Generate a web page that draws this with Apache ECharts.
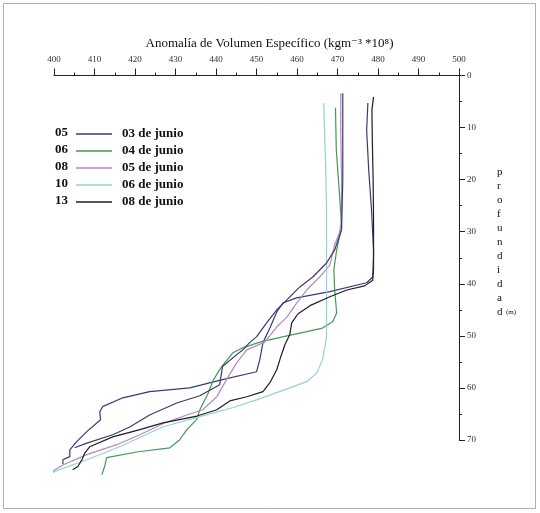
<!DOCTYPE html>
<html><head><meta charset="utf-8">
<script src="https://cdn.jsdelivr.net/npm/echarts@6/dist/echarts.min.js"></script>
<style>html,body{margin:0;padding:0;background:#fff}#c{width:540px;height:513px}</style>
</head><body><div id="c"></div>
<script>
// Tick values
const xTickLabels = [400,410,420,430,440,450,460,470,480,490,500];
const yTickLabels = [0,10,20,30,40,50,60,70];

// Legend info
const codes = ['05','06','08','10','13'];
const dates = ['03 de junio','04 de junio','05 de junio','06 de junio','08 de junio'];

// Series: anomaly values (x) and depth (m, y)
const val05 = [477.5,477.2,477.7,478.4,478.9,478.9,478.7,477.2,468.1,459.9,456.5,455.0,453.3,451.6,450.8,450.0,441.6,433.5,423.6,417.0,412.0,411.3,411.5,408.1,405.6,403.9,403.9,402.2,402.2];
const dep05 = [5.3,10.5,18.1,25.8,33.5,37.3,38.7,39.8,41.5,42.7,43.7,45.4,48.5,51.3,54.6,56.9,58.4,60.0,60.7,61.9,63.6,64.6,66.1,68.4,70.3,71.9,73.2,73.8,74.6];

const val05b = [471.3,471.3,471.3,471.0,469.3,467.3,463.9,460.7,457.5,455.0,452.5,450.0,448.3,446.6,445.1,441.6,440.9,436.0,430.3,423.6,418.7,414.5,408.1,405.1];
const dep05b = [3.4,10.5,20.1,29.7,33.5,36.0,38.7,40.6,43.1,45.0,47.5,50.2,51.3,52.7,53.6,55.9,59.4,61.5,62.9,65.2,67.5,69.0,70.6,71.5];

const val06 = [469.5,469.7,470.6,471.0,469.8,469.1,469.3,469.8,468.8,466.3,462.4,456.4,450.8,446.6,444.1,441.4,439.4,437.9,436.0,435.2,432.8,431.0,428.6,420.4,413.0,412.5,411.8];
const dep06 = [6.2,14.3,23.9,29.1,33.5,37.3,41.2,45.6,47.3,48.5,49.2,50.2,51.2,52.3,53.3,55.9,58.4,61.3,64.2,66.1,68.0,70.0,71.5,72.3,73.4,75.1,76.7];

const val08 = [470.8,470.8,471.0,471.0,470.5,469.3,468.1,465.6,462.4,459.9,457.5,455.0,452.0,447.6,445.1,442.6,440.2,436.7,432.8,427.4,421.2,415.5,408.1,402.2,398.2,394.0];
const dep08 = [3.4,10.5,20.1,27.7,30.2,32.5,36.4,38.7,41.2,43.7,46.4,48.3,51.2,52.7,55.2,58.4,61.7,64.2,65.2,66.7,69.0,70.9,72.8,74.8,76.7,78.0];

const val10 = [466.6,466.8,467.1,467.3,467.3,467.3,467.3,466.3,464.9,462.4,458.2,450.0,444.1,436.0,426.8,416.2,408.1,401.4,394.0];
const dep10 = [5.3,10.5,18.1,25.8,33.5,43.1,50.2,54.6,57.1,58.8,60.0,62.3,63.8,65.5,67.5,71.3,73.8,75.7,78.0];

const val13 = [478.9,478.5,478.6,478.8,478.9,478.9,478.7,476.7,472.3,468.1,463.2,460.2,458.7,458.2,457.0,456.0,455.0,453.3,451.6,447.6,443.4,440.2,435.3,426.9,421.2,414.5,408.8,407.6,406.9,405.9,404.6];
const dep13 = [4.1,6.6,12.4,20.1,27.7,34.5,39.3,40.4,41.2,42.5,44.2,45.8,47.5,49.8,51.7,54.0,56.5,59.0,60.7,61.7,62.5,64.2,65.4,66.7,68.0,69.4,71.3,72.5,73.8,75.1,75.7];

const colors = ['#3d3778','#3f9b55','#b488c2','#92d3d3','#1e1e24'];

const pair = (xs, ys) => xs.map((v, i) => [v, ys[i]]);
const seriesDefs = [
  {name: dates[0], data: pair(val05, dep05), color: colors[0]},
  {name: dates[1], data: pair(val06, dep06), color: colors[1]},
  {name: dates[2], data: pair(val08, dep08), color: colors[2]},
  {name: dates[3], data: pair(val10, dep10), color: colors[3]},
  {name: dates[4], data: pair(val13, dep13), color: colors[4]},
  {name: '05 (b)', data: pair(val05b, dep05b), color: colors[0]}
];

const serif = '"Liberation Serif","DejaVu Serif",serif';
const chart = echarts.init(document.getElementById('c'));
const rowY = [134, 151, 168, 185, 202];

chart.setOption({
  animation: false,
  backgroundColor: '#fff',
  grid: {left: 54, right: 81, top: 75.5, bottom: 73, containLabel: false},
  legend: {
    data: dates,
    orient: 'vertical',
    left: 76, top: 127, padding: 0,
    icon: 'rect',
    itemWidth: 36, itemHeight: 1.6, itemGap: 3,
    textStyle: {fontFamily: serif, fontWeight: 'bold', fontSize: 13, color: '#111', lineHeight: 14, padding: [0,0,0,5]},
    selectedMode: false
  },
  xAxis: {
    type: 'value', position: 'top',
    min: xTickLabels[0], max: xTickLabels[xTickLabels.length-1], interval: 10,
    name: 'Anomalía de Volumen Específico (kgm⁻³ *10⁸)',
    nameLocation: 'middle', nameGap: 25,
    nameTextStyle: {fontFamily: serif, fontSize: 13, color: '#111', padding: [0,0,0,26]},
    axisLine: {lineStyle: {color: '#222', width: 1}},
    axisTick: {show: true, length: 7, lineStyle: {color: '#222'}},
    minorTick: {show: true, splitNumber: 2, length: 3, lineStyle: {color: '#222'}},
    axisLabel: {fontFamily: serif, fontSize: 9, color: '#333', margin: 11},
    splitLine: {show: false}
  },
  yAxis: {
    type: 'value', position: 'right', inverse: true,
    min: yTickLabels[0], max: yTickLabels[yTickLabels.length-1], interval: 10,
    name: 'p\nr\no\nf\nu\nn\nd\ni\nd\na\nd{s|  (m)}',
    nameLocation: 'middle', nameRotate: 0, nameGap: 38,
    nameTextStyle: {fontFamily: serif, fontSize: 11, color: '#111', lineHeight: 14, align: 'left', padding: [0,0,32,0],
      rich: {s: {fontFamily: serif, fontSize: 7, color: '#111'}}},
    axisLine: {lineStyle: {color: '#222', width: 1}},
    axisTick: {show: true, length: 6, lineStyle: {color: '#222'}},
    minorTick: {show: true, splitNumber: 2, length: 3, lineStyle: {color: '#222'}},
    axisLabel: {fontFamily: serif, fontSize: 9, color: '#333', margin: 8},
    splitLine: {show: false}
  },
  series: seriesDefs.map(s => ({
    name: s.name, type: 'line', data: s.data,
    symbol: 'none', showSymbol: false, clip: false, smooth: false,
    color: s.color,
    lineStyle: {color: s.color, width: 1.2}
  })),
  graphic: [
    {type: 'rect', shape: {x: 3.5, y: 3.5, width: 532, height: 505}, style: {fill: 'none', stroke: '#b0b0b0', lineWidth: 1}, silent: true}
  ].concat(codes.map((c, i) => ({
    type: 'text', left: 55, top: rowY[i] - 8,
    style: {text: c, font: 'bold 13px ' + serif, fill: '#111'}
  })))
});
</script>
</body></html>
